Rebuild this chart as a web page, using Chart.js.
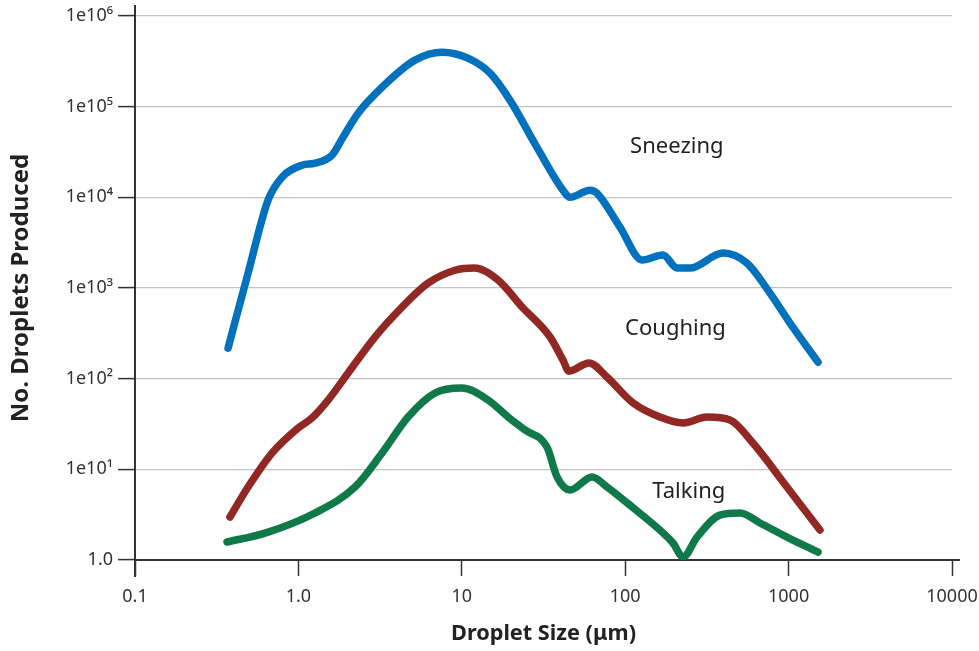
<!DOCTYPE html>
<html>
<head>
<meta charset="utf-8">
<script src="https://cdn.jsdelivr.net/npm/chart.js@4.4.1/dist/chart.umd.min.js"></script>
<style>
html,body{margin:0;padding:0;background:#fff;}
#c{display:block;}
</style>
</head>
<body>
<canvas id="c" width="979" height="651"></canvas>
<script>
// ---- data (droplet size in µm, number of droplets) ----
const sneezeX = [0.371,0.492,0.652,0.794,1.052,1.264,1.606,1.875,2.32,3.25,5.17,7.57,10.9,14.9,19.7,28.8,41.6,45.9,60.9,67.2,92.9,127,170,208,249,397,556,769,1020,1514];
const sneezeY = [217,1460,9310,16700,22600,23800,29200,46100,84800,164000,326000,399000,343000,234000,118000,35800,12000,10000,12000,11100,4690,2030,2310,1660,1660,2430,1880,879,410,152];

const coughX = [0.381,0.492,0.689,0.994,1.21,1.52,2.01,2.94,4.31,6.21,9.08,12.0,16.7,23.4,34.7,41.6,45.3,60.0,77.4,112,163,226,317,438,605,977,1556];
const coughY = [2.98,6.38,15.1,28.5,36.8,58.1,115,288,616,1130,1570,1660,1220,616,288,160,121,149,104,53.8,37.7,32.4,37.7,35.0,19.5,6.38,2.14];

const talkX = [0.366,0.625,1.264,2.22,3.25,4.69,6.86,10.0,14.5,19.2,24.4,33.2,38.3,45.9,62.7,77.4,103,163,196,226,275,380,505,668,977,1514];
const talkY = [1.58,1.98,3.30,6.38,15.1,37.7,69.4,78.8,58.1,37.7,27.1,17.6,8.22,5.91,8.22,6.38,4.25,2.14,1.54,1.08,1.79,3.13,3.30,2.56,1.79,1.22];

const seriesNames = ['Sneezing','Coughing','Talking'];
const seriesColors = ['#0071bc','#912824','#10794a'];

const xTickValues = [0.1,1,10,100,1000,10000];
const xTickLabels = ['0.1','1.0','10','100','1000','10000'];
const yTickValues = [1,10,100,1000,10000,100000,1000000];
const yTickLabels = ['1.0','1e10\u00B9','1e10\u00B2','1e10\u00B3','1e10\u2074','1e10\u2075','1e10\u2076'];

// label anchor points (data coordinates, text baseline centre) for the series names
const labelAnchorX = [207, 203, 245];
const labelAnchorY = [30700, 303, 4.83];

const xTitle = 'Droplet Size (\u03BCm)';
const yTitle = 'No. Droplets Produced';

function pts(xs, ys){ return xs.map((x,i)=>({x:x, y:ys[i]})); }

const FONT = "'Noto Sans', 'Open Sans', sans-serif";

const decor = {
  id:'decor',
  beforeDatasetsDraw(chart){
    const ctx = chart.ctx, a = chart.chartArea;
    ctx.save();
    ctx.strokeStyle = '#333';
    ctx.lineWidth = 2;
    ctx.beginPath();
    ctx.moveTo(a.left, 5);
    ctx.lineTo(a.left, a.bottom + 17);
    ctx.moveTo(a.left, a.bottom);
    ctx.lineTo(960, a.bottom);
    ctx.stroke();
    ctx.restore();
  },
  afterDatasetsDraw(chart){
    const ctx = chart.ctx;
    const xs = chart.scales.x, ys = chart.scales.y;
    ctx.save();
    ctx.fillStyle = '#222';
    ctx.font = '22px ' + FONT;
    ctx.textAlign = 'center';
    ctx.textBaseline = 'alphabetic';
    seriesNames.forEach((n,i)=>{
      ctx.fillText(n, xs.getPixelForValue(labelAnchorX[i]), ys.getPixelForValue(labelAnchorY[i]));
    });
    ctx.restore();
  }
};

new Chart(document.getElementById('c'), {
  type:'line',
  data:{
    datasets:[
      {label:seriesNames[0], data:pts(sneezeX,sneezeY)},
      {label:seriesNames[1], data:pts(coughX,coughY)},
      {label:seriesNames[2], data:pts(talkX,talkY)}
    ].map((d,i)=>Object.assign(d,{
      borderColor:seriesColors[i], backgroundColor:seriesColors[i],
      borderWidth:7.5, pointRadius:0, fill:false,
      cubicInterpolationMode:'monotone',
      borderCapStyle:'round', borderJoinStyle:'round'
    }))
  },
  options:{
    responsive:false, animation:false, devicePixelRatio:1,
    layout:{padding:{left:0,right:27,top:16,bottom:0}},
    plugins:{legend:{display:false}, tooltip:{enabled:false}},
    scales:{
      x:{
        type:'logarithmic', min:0.1, max:10000,
        afterBuildTicks(s){ s.ticks = xTickValues.map(v=>({value:v})); },
        afterFit(s){ s.height = 91; s.paddingLeft = 0; s.paddingRight = 0; },
        border:{display:false},
        grid:{display:true, drawOnChartArea:false, drawTicks:true, tickLength:16, tickColor:'#333', tickWidth:1.5},
        ticks:{
          autoSkip:false, maxRotation:0, padding:10,
          color:'#333', font:{family:FONT, size:18},
          callback(v){ const i = xTickValues.indexOf(v); return i>=0 ? xTickLabels[i] : ''; }
        },
        title:{display:true, text:xTitle, color:'#222', font:{family:FONT, size:21.7, weight:'bold'}, padding:{top:0,bottom:4}}
      },
      y:{
        type:'logarithmic', min:1, max:1000000,
        afterBuildTicks(s){ s.ticks = yTickValues.map(v=>({value:v})); },
        afterFit(s){ s.width = 135; s.paddingTop = 0; s.paddingBottom = 0; },
        border:{display:false},
        grid:{display:true, drawOnChartArea:true, color:'#c4c4c4', lineWidth:1.2, drawTicks:true, tickLength:17, tickColor:'#333', tickWidth:1.5},
        ticks:{
          autoSkip:false, padding:5,
          color:'#333', font:{family:FONT, size:18},
          callback(v){ const i = yTickValues.indexOf(v); return i>=0 ? yTickLabels[i] : ''; }
        },
        title:{display:true, text:yTitle, color:'#222', font:{family:FONT, size:24, weight:'bold'}, padding:{top:7,bottom:0}}
      }
    }
  },
  plugins:[decor]
});
</script>
</body>
</html>
